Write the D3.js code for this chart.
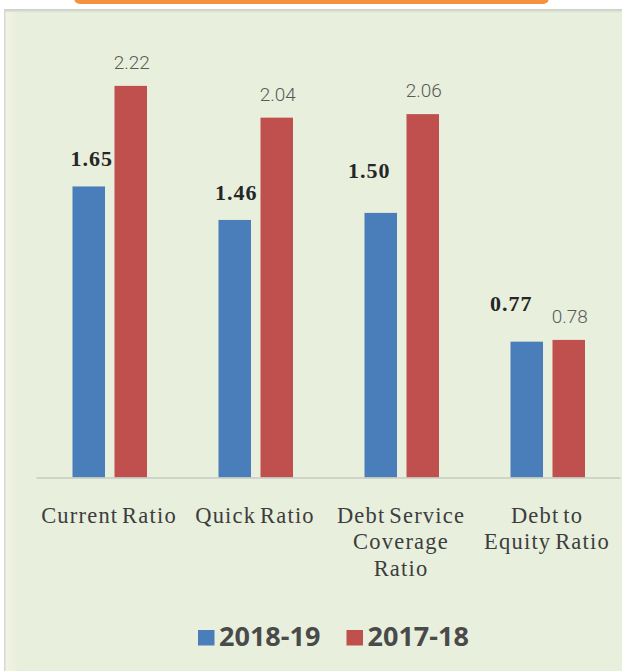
<!DOCTYPE html>
<html>
<head>
<meta charset="utf-8">
<script src="https://cdn.jsdelivr.net/npm/d3@7"></script>
<style>
  html, body { margin: 0; padding: 0; background: #ffffff; }
  svg { display: block; }
</style>
</head>
<body>
<svg id="chart" width="622" height="671"></svg>
<script>
// Liquidity and solvency ratios, two financial years
const categories = ["Current Ratio", "Quick Ratio", "Debt Service Coverage Ratio", "Debt to Equity Ratio"];
const categoryLines = [["Current Ratio"], ["Quick Ratio"], ["Debt Service", "Coverage", "Ratio"], ["Debt to", "Equity Ratio"]];
const series = ["2018-19", "2017-18"];
const values2018_19 = [1.65, 1.46, 1.50, 0.77];
const values2017_18 = [2.22, 2.04, 2.06, 0.78];
const yDomain = [0, 2.5];

const seriesValues = { "2018-19": values2018_19, "2017-18": values2017_18 };
const colors = { "2018-19": "#4a7ebb", "2017-18": "#c0504d" };

// nudges (dx, dy) for the bold current-year labels so they sit clear of neighbours
const boldLabelNudge = [[3, -20], [1.5, -20], [-11.5, -35], [-15.5, -31]];

const svg = d3.select("#chart");
const W = 622, H = 671;

// panel background
const defs = svg.append("defs");
const topShade = defs.append("linearGradient").attr("id", "topShade").attr("x1", 0).attr("y1", 0).attr("x2", 0).attr("y2", 1);
topShade.append("stop").attr("offset", "0%").attr("stop-color", "#c9cdc4");
topShade.append("stop").attr("offset", "100%").attr("stop-color", "#e8efdd");
const leftShade = defs.append("linearGradient").attr("id", "leftShade").attr("x1", 0).attr("y1", 0).attr("x2", 1).attr("y2", 0);
leftShade.append("stop").attr("offset", "0%").attr("stop-color", "#f4f3e4");
leftShade.append("stop").attr("offset", "100%").attr("stop-color", "#e8efdd").attr("stop-opacity", 0);

svg.append("rect").attr("x", 0).attr("y", 0).attr("width", W).attr("height", H).attr("fill", "#ffffff");
svg.append("rect").attr("x", 5).attr("y", 9).attr("width", W - 5).attr("height", H - 9).attr("fill", "#e8efdd");
svg.append("rect").attr("x", 5).attr("y", 9).attr("width", W - 5).attr("height", 4).attr("fill", "url(#topShade)");
svg.append("rect").attr("x", 5).attr("y", 12).attr("width", 18).attr("height", H - 12).attr("fill", "url(#leftShade)");
svg.append("rect").attr("x", 4).attr("y", 9).attr("width", 1.5).attr("height", H - 9).attr("fill", "#d6d9d0");

// orange tab above the panel
svg.append("rect").attr("x", 74).attr("y", -8).attr("width", 475).attr("height", 12)
  .attr("rx", 6).attr("fill", "#f5913f");

// scales: x0 places the categories, x1 places the two years inside each band
const x0 = d3.scaleBand().domain(categories).range([36, 620]).paddingInner(0).paddingOuter(0);
const x1 = d3.scaleBand().domain(series).range([36.5, 111]).paddingInner(0.226);
const y = d3.scaleLinear().domain(yDomain).range([477.5, 36.5]);

// bars
const groups = svg.append("g").selectAll("g")
  .data(categories)
  .join("g")
  .attr("transform", d => `translate(${x0(d)},0)`);

groups.selectAll("rect")
  .data((c, i) => series.map(s => ({ s, v: seriesValues[s][i] })))
  .join("rect")
  .attr("x", d => x1(d.s))
  .attr("y", d => y(d.v))
  .attr("width", x1.bandwidth())
  .attr("height", d => y(0) - y(d.v))
  .attr("fill", d => colors[d.s]);

// x axis
const axis = svg.append("g")
  .attr("transform", `translate(0,${y(0)})`)
  .call(d3.axisBottom(x0).tickSize(0).tickSizeOuter(0).tickFormat(""));
axis.select(".domain").attr("stroke", "#c6cbc0").attr("stroke-width", 1.5);

axis.selectAll(".tick text").remove();
axis.selectAll(".tick").each(function (c, i) {
  const t = d3.select(this).append("text")
    .attr("fill", "#3d3d3d")
    .attr("font-family", "'Liberation Serif', 'Times New Roman', serif")
    .attr("font-size", 22.5)
    .attr("letter-spacing", "1.2px")
    .attr("word-spacing", "-3px")
    .attr("text-anchor", "middle");
  categoryLines[i].forEach((line, k) => {
    t.append("tspan").attr("x", 0).attr("y", 45 + k * 26.5).text(line);
  });
});

// value labels: current year bold serif, previous year light sans
groups.each(function (c, i) {
  const g = d3.select(this);
  const vb = values2018_19[i];
  g.append("text")
    .attr("x", x1("2018-19") + x1.bandwidth() / 2 + boldLabelNudge[i][0])
    .attr("y", y(vb) + boldLabelNudge[i][1])
    .attr("text-anchor", "middle")
    .attr("font-family", "'Liberation Serif', 'Times New Roman', serif")
    .attr("font-weight", "bold")
    .attr("font-size", 22)
    .attr("letter-spacing", "1px")
    .attr("fill", "#262626")
    .text(d3.format(".2f")(vb));
  const vr = values2017_18[i];
  g.append("text")
    .attr("x", x1("2017-18") + x1.bandwidth() / 2 + 1)
    .attr("y", y(vr) - 17)
    .attr("text-anchor", "middle")
    .attr("font-family", "Roboto, 'Open Sans', sans-serif")
    .attr("font-weight", 300)
    .attr("font-size", 19)
    .attr("fill", "#5a5a5a")
    .text(d3.format(".2f")(vr));
});

// legend
const legend = svg.append("g").attr("transform", "translate(198,646)");
const legendX = [0, 148.5];
series.forEach((s, i) => {
  const g = legend.append("g").attr("transform", `translate(${legendX[i]},0)`);
  g.append("rect").attr("x", 0).attr("y", -16).attr("width", 16.5).attr("height", 15.5).attr("fill", colors[s]);
  g.append("text").attr("x", 21).attr("y", 0)
    .attr("font-family", "'Open Sans', 'Noto Sans', sans-serif")
    .attr("font-weight", 700)
    .attr("font-size", 27)
    .attr("fill", "#4a4a4a")
    .text(s);
});
</script>
</body>
</html>
